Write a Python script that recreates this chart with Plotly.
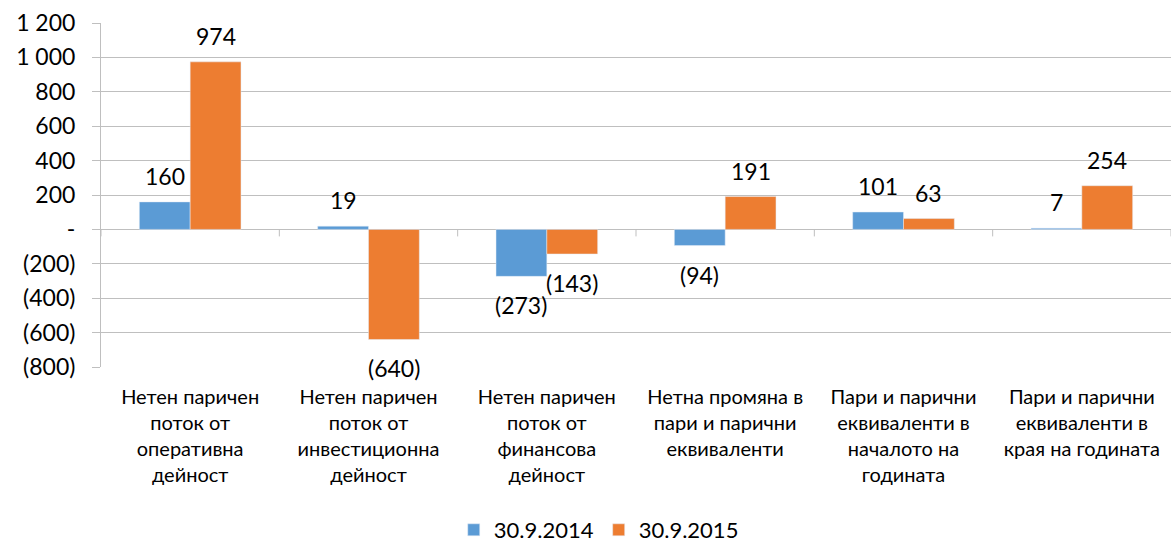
import plotly.graph_objects as go

# Cash-flow categories (multi-line axis labels)
categories = [
    "Нетен паричен<br>поток от<br>оперативна<br>дейност",
    "Нетен паричен<br>поток от<br>инвестиционна<br>дейност",
    "Нетен паричен<br>поток от<br>финансова<br>дейност",
    "Нетна промяна в<br>пари и парични<br>еквиваленти",
    "Пари и парични<br>еквиваленти в<br>началото на<br>годината",
    "Пари и парични<br>еквиваленти в<br>края на годината",
]
series_names = ["30.9.2014", "30.9.2015"]
values_2014 = [160, 19, -273, -94, 101, 7]
values_2015 = [974, -640, -143, 191, 63, 254]

y_tickvals = [-800, -600, -400, -200, 0, 200, 400, 600, 800, 1000, 1200]
y_ticktext = ["(800)", "(600)", "(400)", "(200)", "-", "200", "400", "600", "800", "1 000", "1 200"]

BLUE = "#5b9bd5"
ORANGE = "#ed7d31"
GRID = "#bfbfbf"
FONT = "Lato"


def fmt(v):
    return f"({abs(v)})" if v < 0 else str(v)


fig = go.Figure()
fig.add_trace(go.Bar(x=categories, y=values_2014, name=series_names[0], marker_color=BLUE))
fig.add_trace(go.Bar(x=categories, y=values_2015, name=series_names[1], marker_color=ORANGE))

# Data labels above positive bars / below negative bars
bar_half = 25.4
for vals, shift in ((values_2014, -bar_half), (values_2015, bar_half)):
    for cat, v in zip(categories, vals):
        fig.add_annotation(
            x=cat, y=v, xref="x", yref="y",
            text=fmt(v), showarrow=False,
            xshift=shift, yshift=26 if v >= 0 else -29,
            font=dict(family=FONT, size=23, color="#000000"),
        )

# Small tick marks on the zero line at the category boundaries
for i in range(len(categories) + 1):
    fig.add_shape(
        type="line", xref="x", yref="y",
        x0=i - 0.5, x1=i - 0.5,
        ysizemode="pixel", yanchor=0, y0=0, y1=-7,
        line=dict(color=GRID, width=1),
    )

fig.update_layout(
    width=1174, height=551,
    margin=dict(l=101, r=3, t=23, b=184, autoexpand=False),
    paper_bgcolor="white", plot_bgcolor="white",
    barmode="group", bargap=0.43, bargroupgap=0,
    font=dict(family=FONT, size=23, color="#000000"),
    showlegend=True,
    legend=dict(
        orientation="h", xref="container", x=0.51, xanchor="center",
        yref="container", y=0.0, yanchor="bottom",
        font=dict(family=FONT, size=22), tracegroupgap=0,
    ),
)
fig.update_xaxes(
    type="category", range=[-0.5, len(categories) - 0.5],
    showgrid=False, showline=False, ticks="",
    tickfont=dict(family=FONT, size=20),
    ticklabelstandoff=16, automargin=False,
)
fig.update_yaxes(
    range=[-800, 1200], tickvals=y_tickvals, ticktext=y_ticktext,
    showgrid=True, gridcolor=GRID, gridwidth=1,
    zeroline=True, zerolinecolor=GRID, zerolinewidth=1,
    showline=True, linecolor=GRID, linewidth=1,
    ticks="outside", ticklen=8, tickcolor=GRID,
    ticklabelstandoff=12, automargin=False,
    tickfont=dict(family=FONT, size=23),
)

fig.write_html("out.html")
